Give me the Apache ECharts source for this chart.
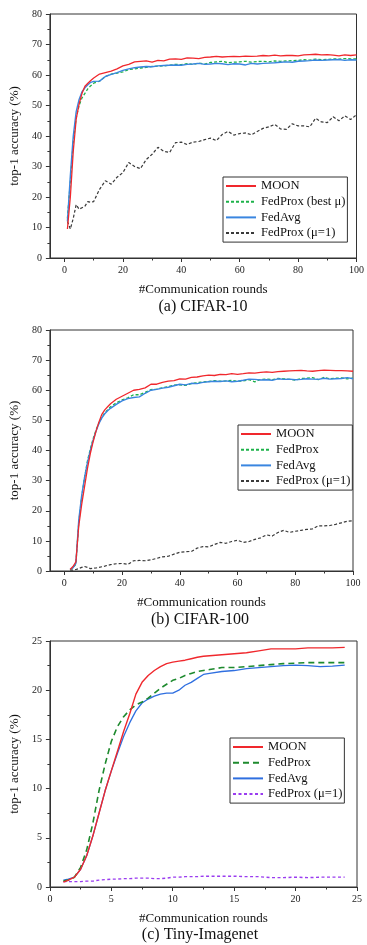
<!DOCTYPE html>
<html><head><meta charset="utf-8">
<script src="https://cdn.jsdelivr.net/npm/echarts@6/dist/echarts.min.js"></script>
<style>html,body{margin:0;padding:0;background:#fff}#c{width:367px;height:945px}</style>
</head><body><div id="c"></div>
<script>
// ---------- (a) CIFAR-10 ----------
const rounds1 = [1,2,3,4,5,6,7,8,9,10,12,14,16,18,20,22,24,26,28,30,32,34,36,38,40,42,44,46,48,50,52,54,56,58,60,62,64,66,68,70,72,74,76,78,80,82,84,86,88,90,92,94,96,98,100];
const moon1 = [9.5,20,35,45.5,50.5,54,56.3,57.3,58.2,59, 60.3,60.8,61.3,62,63,63.5,64.3,64.5,64.6,64.2, 64.8,64.6,65.2,65.3,65.1,65.6,65.5,65.4,65.8,65.9, 66.1,65.9,66.0,66.1,66.0,66.2,66.1,66.2,66.4,66.3, 66.5,66.3,66.4,66.4,66.3,66.6,66.7,66.8,66.6,66.7, 66.5,66.3,66.6,66.4,66.6];
const prox1 = [13,25,38,46,50,52.5,54,55.5,56.5,57.3, 58,59.5,60.3,60.6,61,61.8,62,62.3,62.5,62.8, 62.9,63,63.2,63.5,63.4,63.7,63.5,63.9,63.6,64.1, 64.3,64.5,64.0,64.2,64.3,64.5,64.2,64.4,64.5,64.3, 64.6,64.5,64.6,64.7,64.8,65.0,64.9,65.2,65.0,65.1, 65.3,65.2,65.4,65.3,65.3];
const avg1 = [12,27,40,48,52,54.5,55.8,56.8,57.6,57.9, 58,59.5,60.2,60.8,61.5,62,62.4,62.6,62.8,62.7, 63,63.1,63.2,63.3,63.2,63.5,63.6,63.8,63.5,63.6, 63.8,63.7,63.4,63.7,63.6,63.3,63.8,63.6,63.8,63.9, 64.0,64.2,64.3,64.2,64.5,64.6,64.7,64.9,64.8,64.9, 65.0,65.1,64.8,65.0,64.9];
const proxMu1 = [12,9.5,13,17.5,16,16.5,17,18.5,18.3,18.5, 22.5,25.3,24.2,26.5,28,31.3,30,29.3,32.3,34, 36.3,35,34.6,37.8,38,37.2,38,38.2,38.8,39.3, 38.5,40.5,41.5,40.3,40.8,41,40.4,41.5,42.5,43, 43.8,42.3,42.2,44,43.3,43.3,43,45.8,44.6,44.4, 46.3,45,46.6,45.4,47];

// ---------- (b) CIFAR-100 ----------
const rounds2 = [2,3,4,5,6,7,8,9,10,11,12,13,14,15,16,18,20,22,24,26,28,30,32,34,36,38,40,42,44,46,48,50,52,54,56,58,60,62,64,66,68,70,72,74,76,78,80,82,84,86,88,90,92,94,96,98,100];
const moon2 = [0.5,1.5,3,15,22,28,34,39,43,46.5,49.5,52,53.5,54.5,55.5, 57,58,59,60,60.3,60.8,62,62,62.6,63, 63.2,63.8,63.7,64.3,64.4,64.8,65,64.9,65.3,65.2, 65.5,65.3,65.5,65.8,65.7,65.9,66.1,65.9,66.2,66.3, 66.4,66.5,66.6,66.4,66.3,66.5,66.7,66.6,66.5,66.5, 66.4,66.3];
const prox2 = [0.4,1,2.3,16,24.5,31,36.5,40.5,44,46.8,49.2,51,52.5,53.5,54.5, 55.8,56.8,57.5,58.5,58.5,59.3,60.2,60.4,60.8,61.2, 61.7,61.8,61.6,62.2,62.5,62.8,62.9,63.2,63,63.1, 63.3,63,63.1,63.5,62.8,63.6,63.7,63.5,63.9,63.8, 63.6,63.4,63.9,64,64.2,63.5,64.3,63.8,64,64.1, 63.8,64];
const avg2 = [0.5,1,2.5,17,25,31,36,40,43.5,46.5,49,50.8,52.2,53.2,54, 55.3,56.5,57.2,57.6,57.8,59,60,60.3,60.7,61, 61.5,62,61.8,62.3,62.2,62.6,62.8,63,62.9,63.1, 62.8,63,63.3,63.7,63.6,63.4,63.5,63.3,63.8,63.6, 63.7,63.5,63.6,63.8,63.7,63.6,64,63.7,63.8,63.9, 64.2,63.8];
const proxMu2 = [0.3,0.3,0.5,0.8,1.2,1.5,1.2,0.8,0.9,1,1.2,1.4,1.6,1.9,2.1, 2.4,2.5,2.2,3.4,3.5,3.4,3.7,4.2,4.7,4.9, 5.6,6.2,6.4,6.5,7.6,8.1,8,8.8,9.5,9.2, 9.8,10.2,9.5,9.8,10.5,11,12,11.6,12.8,13.5, 12.8,13.2,13.5,13.8,14,15,15,15.1,15.5,16, 16.5,16.7];

// ---------- (c) Tiny-Imagenet ----------
const rounds3 = [1.1,1.5,2,2.5,3,3.5,4,4.5,5,5.5,6,6.5,7,7.5,8,8.5,9,9.5,10,10.5,11,11.5,12,12.5,13,14,15,16,17,18,19,20,21,22,23,24];
const moon3 = [0.5,0.7,1.0,1.8,3.2,5.2,7.5,9.8,11.8,13.8,15.8,17.6,19.6,20.8,21.5,22.0,22.4,22.7,22.85,22.95,23.05,23.2,23.35,23.45,23.5,23.6,23.7,23.8,24.0,24.2,24.2,24.2,24.3,24.3,24.3,24.35];
const prox3 = [0.6,0.7,1.0,2.0,3.8,6.5,9.8,12.5,14.8,16.3,17.3,18.0,18.5,18.8,19.2,19.7,20.2,20.6,21.0,21.2,21.5,21.7,21.9,22.0,22.1,22.3,22.3,22.4,22.5,22.6,22.7,22.75,22.8,22.8,22.8,22.8];
const avg3 = [0.7,0.8,1.0,1.8,3.2,5.2,7.5,9.8,11.8,13.6,15.3,16.7,17.9,18.7,19.1,19.4,19.6,19.7,19.7,20.0,20.5,20.8,21.2,21.6,21.7,21.9,22.0,22.2,22.3,22.4,22.5,22.55,22.5,22.4,22.45,22.55];
const proxMu3 = [0.55,0.55,0.55,0.55,0.6,0.6,0.7,0.75,0.8,0.8,0.85,0.85,0.9,0.9,0.9,0.85,0.85,0.9,1.0,1.0,1.05,1.05,1.05,1.1,1.1,1.1,1.1,1.05,1.05,0.95,0.95,1.0,0.95,1.0,1.0,1.0];

const xTicks12 = [0,20,40,60,80,100];
const xMinor12 = [10,30,50,70,90];
const names1 = ['MOON','FedProx (best \u03bc)','FedAvg','FedProx (\u03bc=1)'];
const names2 = ['MOON','FedProx','FedAvg','FedProx (\u03bc=1)'];
const names3 = ['MOON','FedProx','FedAvg','FedProx (\u03bc=1)'];
const xName = '#Communication rounds';
const yName = 'top-1 accuracy (%)';
const captions = ['(a) CIFAR-10','(b) CIFAR-100','(c) Tiny-Imagenet'];

const F = '"Liberation Serif", "Times New Roman", serif';
const zip = (xs, ys) => xs.map((x, i) => [x, ys[i]]);
const lab = {fontFamily: F, fontSize: 10, color: '#222'};
const axLine = {show: true, onZero: false, lineStyle: {color: '#333', width: 1}};

const grids = [
  {left: 45, right: 5, top: 14, height: 244},
  {left: 45, right: 14, top: 330, height: 241},
  {left: 41, right: 10, top: 641, height: 246}
].map(g => Object.assign(g, {show: true, borderColor: '#333', borderWidth: 1, containLabel: false}));

function mainX(gi, opts) {
  return Object.assign({
    gridIndex: gi, type: 'value', name: xName, nameLocation: 'middle', nameGap: 25,
    nameTextStyle: {fontFamily: F, fontSize: 13, color: '#111'},
    axisLine: axLine, splitLine: {show: false},
    axisTick: {show: true, length: 4, lineStyle: {color: '#333'}},
    axisLabel: Object.assign({margin: 7}, lab)
  }, opts);
}
function yAx(gi, nameGap, opts) {
  return Object.assign({
    gridIndex: gi, type: 'value', name: yName, nameLocation: 'middle', nameGap: nameGap, nameRotate: 90,
    nameTextStyle: {fontFamily: F, fontSize: 13, color: '#111'},
    axisLine: axLine, splitLine: {show: false},
    axisTick: {show: true, length: 4, lineStyle: {color: '#333'}},
    minorTick: {show: true, splitNumber: 2, length: 2.5, lineStyle: {color: '#333'}},
    axisLabel: Object.assign({margin: 8}, lab)
  }, opts);
}
function minorX(gi) {
  return {gridIndex: gi, type: 'value', min: -5, max: 100, position: 'bottom',
    axisLine: {show: false}, splitLine: {show: false}, axisLabel: {show: false},
    axisTick: {show: true, length: 2.5, customValues: xMinor12, lineStyle: {color: '#333'}}};
}

const xAxis = [
  mainX(0, {min: -5, max: 100, axisTick: {show: true, length: 4, customValues: xTicks12, lineStyle: {color: '#333'}},
    axisLabel: Object.assign({margin: 7, customValues: xTicks12}, lab)}),
  mainX(1, {min: -5, max: 100, axisTick: {show: true, length: 4, customValues: xTicks12, lineStyle: {color: '#333'}},
    axisLabel: Object.assign({margin: 7, customValues: xTicks12}, lab)}),
  mainX(2, {min: 0, max: 25, interval: 5, minorTick: {show: true, splitNumber: 2, length: 2.5, lineStyle: {color: '#333'}}}),
  minorX(0), minorX(1)
];
const yAxis = [
  yAx(0, 23, {min: 0, max: 80, interval: 10}),
  yAx(1, 21, {min: 0, max: 80, interval: 10}),
  yAx(2, 22, {min: 0, max: 25, interval: 5})
];

function line(name, gi, xs, ys, color, type, width) {
  return {name, type: 'line', xAxisIndex: gi, yAxisIndex: gi, data: zip(xs, ys), showSymbol: false,
    symbol: 'none', lineStyle: {color, width: width || 1.3, type: type || 'solid'}, itemStyle: {color},
    animation: false, z: 3};
}
const RED = '#f0282d', GREEN1 = '#1db24a', BLUE = '#3a86e0', GRAY = '#3a3a3a';
const GREEN3 = '#1e8a2e', BLUE3 = '#2f6fe0', PURPLE = '#9a3cf0';
const series = [
  line(names1[3], 0, rounds1, proxMu1, GRAY, [3, 2], 1.2),
  line(names1[1], 0, rounds1, prox1, GREEN1, [3, 2], 1.3),
  line(names1[2], 0, rounds1, avg1, BLUE, 'solid', 1.4),
  line(names1[0], 0, rounds1, moon1, RED, 'solid', 1.3),
  line(names2[3] + ' ', 1, rounds2, proxMu2, GRAY, [3, 2], 1.2),
  line(names2[1] + ' ', 1, rounds2, prox2, GREEN1, [3, 2], 1.3),
  line(names2[2] + ' ', 1, rounds2, avg2, BLUE, 'solid', 1.4),
  line(names2[0] + ' ', 1, rounds2, moon2, RED, 'solid', 1.3),
  line(names3[3] + '  ', 2, rounds3, proxMu3, PURPLE, [3, 2.5], 1.4),
  line(names3[2] + '  ', 2, rounds3, avg3, BLUE3, 'solid', 1.3),
  line(names3[1] + '  ', 2, rounds3, prox3, GREEN3, [6, 4], 1.6),
  line(names3[0] + '  ', 2, rounds3, moon3, RED, 'solid', 1.4)
];

function legend(left, top, data) {
  return {orient: 'vertical', left, top, data, itemWidth: 30, itemHeight: 14, itemGap: 1.7,
    padding: [2, 2, 2, 2], borderColor: '#333', borderWidth: 1, backgroundColor: '#fff',
    itemStyle: {opacity: 0}, selectedMode: false,
    textStyle: {fontFamily: F, fontSize: 12.6, color: '#111', lineHeight: 14},
    formatter: n => n.trim()};
}
const legends = [
  legend(223, 177, names1),
  legend(238, 425, names2.map(n => n + ' ')),
  legend(230, 738, names3.map(n => n + '  '))
];

const capY = [307, 620, 935];
const capX = [203, 200, 200];
const graphic = captions.map((t, i) => ({type: 'text', x: capX[i], y: capY[i], z: 10,
  style: {text: t, fontFamily: F, fontSize: 16, fill: '#111', align: 'center', verticalAlign: 'middle'}}));

const chart = echarts.init(document.getElementById('c'), null, {renderer: 'canvas'});
chart.setOption({backgroundColor: '#fff', animation: false, grid: grids, xAxis, yAxis, series, legend: legends, graphic});
</script></body></html>
